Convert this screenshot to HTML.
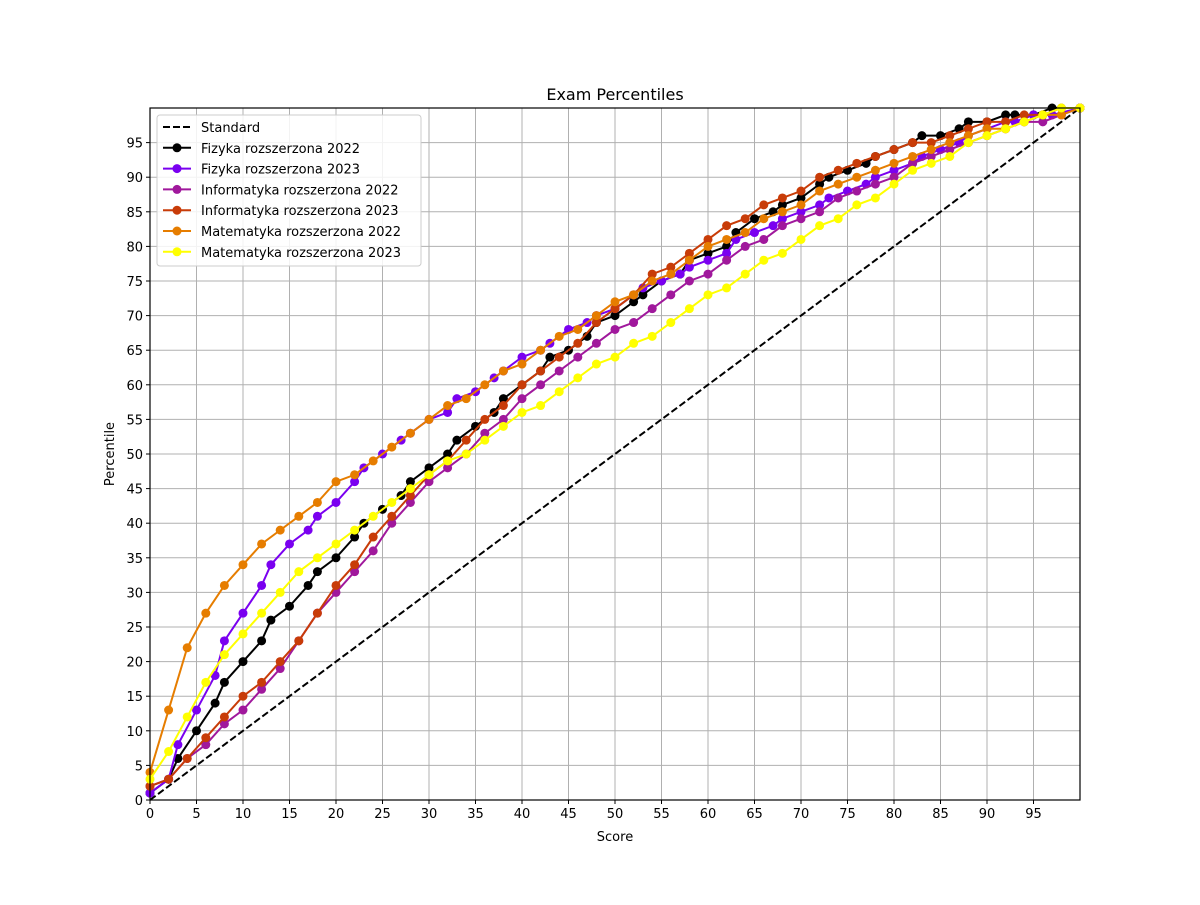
<!DOCTYPE html>
<html><head><meta charset="utf-8"><style>
body{margin:0;background:#fff;font-family:"Liberation Sans","DejaVu Sans",sans-serif}
svg text{font-family:"DejaVu Sans","Liberation Sans",sans-serif}
</style></head><body>
<svg id="chart" width="1200" height="900" xmlns="http://www.w3.org/2000/svg"></svg>
<script>
const xTicks=[0,5,10,15,20,25,30,35,40,45,50,55,60,65,70,75,80,85,90,95];
const yTicks=[0,5,10,15,20,25,30,35,40,45,50,55,60,65,70,75,80,85,90,95];
const seriesNames=["Fizyka rozszerzona 2022","Fizyka rozszerzona 2023","Informatyka rozszerzona 2022","Informatyka rozszerzona 2023","Matematyka rozszerzona 2022","Matematyka rozszerzona 2023"];
const fiz22X=[0,2,3,5,7,8,10,12,13,15,17,18,20,22,23,25,27,28,30,32,33,35,37,38,40,42,43,45,47,48,50,52,53,55,57,58,60,62,63,65,67,68,70,72,73,75,77,78,80,82,83,85,87,88,90,92,93,95,97,100];
const fiz22Y=[1,3,6,10,14,17,20,23,26,28,31,33,35,38,40,42,44,46,48,50,52,54,56,58,60,62,64,65,67,69,70,72,73,75,76,78,79,80,82,84,85,86,87,89,90,91,92,93,94,95,96,96,97,98,98,99,99,99,100,100];
const fiz23X=[0,2,3,5,7,8,10,12,13,15,17,18,20,22,23,25,27,28,30,32,33,35,37,38,40,42,43,45,47,48,50,52,53,55,57,58,60,62,63,65,67,68,70,72,73,75,77,78,80,82,83,85,87,88,90,92,93,95,97,100];
const fiz23Y=[1,3,8,13,18,23,27,31,34,37,39,41,43,46,48,50,52,53,55,56,58,59,61,62,64,65,66,68,69,70,71,73,74,75,76,77,78,79,81,82,83,84,85,86,87,88,89,90,91,92,93,94,95,96,97,98,98,99,99,100];
const inf22X=[0,2,4,6,8,10,12,14,16,18,20,22,24,26,28,30,32,34,36,38,40,42,44,46,48,50,52,54,56,58,60,62,64,66,68,70,72,74,76,78,80,82,84,86,88,90,92,94,96,98,100];
const inf22Y=[2,3,6,8,11,13,16,19,23,27,30,33,36,40,43,46,48,50,53,55,58,60,62,64,66,68,69,71,73,75,76,78,80,81,83,84,85,87,88,89,90,92,93,94,95,96,97,98,98,99,100];
const inf23Y=[2,3,6,9,12,15,17,20,23,27,31,34,38,41,44,47,49,52,55,57,60,62,64,66,69,71,73,76,77,79,81,83,84,86,87,88,90,91,92,93,94,95,95,96,97,98,98,99,99,100,100];
const mat22Y=[4,13,22,27,31,34,37,39,41,43,46,47,49,51,53,55,57,58,60,62,63,65,67,68,70,72,73,75,76,78,80,81,82,84,85,86,88,89,90,91,92,93,94,95,96,97,97,98,99,99,100];
const mat23Y=[3,7,12,17,21,24,27,30,33,35,37,39,41,43,45,47,49,50,52,54,56,57,59,61,63,64,66,67,69,71,73,74,76,78,79,81,83,84,86,87,89,91,92,93,95,96,97,98,99,100,100];
const colors=["#000000","#7a00f0","#a0189c","#c83c08","#e67d00","#ffff00"];
const L=150,R=1080,T=108,B=800;
const sx=v=>L+(v/100)*(R-L);
const sy=v=>B-(v/100)*(B-T);
const svg=document.getElementById('chart');
const NS="http://www.w3.org/2000/svg";
function mk(tag,attrs,parent){const e=document.createElementNS(NS,tag);for(const k in attrs)e.setAttribute(k,attrs[k]);(parent||svg).appendChild(e);return e;}
xTicks.forEach(t=>{
 const g=mk('line',{x1:sx(t),x2:sx(t),y1:T,y2:B,stroke:'#b0b0b0','stroke-width':1});
 
 
 mk('line',{x1:sx(t),x2:sx(t),y1:B,y2:B+4,stroke:'#000'});
 const tx=mk('text',{x:sx(t),y:B+18,'font-size':13,'text-anchor':'middle'});tx.textContent=t;
 
 
});
yTicks.forEach(t=>{
 const g=mk('line',{x1:L,x2:R,y1:sy(t),y2:sy(t),stroke:'#b0b0b0','stroke-width':1});
 
 
 mk('line',{x1:L-4,x2:L,y1:sy(t),y2:sy(t),stroke:'#000'});
 const tx=mk('text',{x:L-7,y:sy(t)+5,'font-size':13,'text-anchor':'end'});tx.textContent=t;
 
 
});
const std=mk('line',{x1:sx(0),y1:sy(0),x2:sx(100),y2:sy(100),stroke:'#000','stroke-width':2,'stroke-dasharray':'7,3'});


const allX=[fiz22X,fiz23X,inf22X,inf22X,inf22X,inf22X];
const allY=[fiz22Y,fiz23Y,inf22Y,inf23Y,mat22Y,mat23Y];
allY.forEach((ys,i)=>{
 const xs=allX[i];
 const g=mk('g',{});
 
 
 mk('polyline',{points:ys.map((y,j)=>sx(xs[j])+','+sy(y)).join(' '),fill:'none',stroke:colors[i],'stroke-width':2},g);
 ys.forEach((y,j)=>{const c=mk('circle',{cx:sx(xs[j]),cy:sy(y),r:4.5,fill:colors[i]},g);
  
  });
});
mk('rect',{x:L,y:T,width:R-L,height:B-T,fill:'none',stroke:'#000','stroke-width':1.2});
const title=mk('text',{x:(L+R)/2,y:100,'font-size':16,'text-anchor':'middle'});title.textContent='Exam Percentiles';


const xl=mk('text',{x:(L+R)/2,y:841,'font-size':13,'text-anchor':'middle'});xl.textContent='Score';


const yl=mk('text',{x:114,y:454,'font-size':13,'text-anchor':'middle',transform:'rotate(-90 114 454)'});yl.textContent='Percentile';


const lg=mk('g',{});


mk('rect',{x:157,y:115,width:264,height:151,rx:3,fill:'#fff','fill-opacity':0.85,stroke:'#ccc'},lg);
const names=["Standard"].concat(seriesNames);
names.forEach((n,i)=>{
 const y=127+i*20.8;
 const e=mk('g',{},lg);
 
 
 if(i===0) mk('line',{x1:163,x2:191,y1:y,y2:y,stroke:'#000','stroke-width':2,'stroke-dasharray':'7,3'},e);
 else {mk('line',{x1:163,x2:191,y1:y,y2:y,stroke:colors[i-1],'stroke-width':2},e);mk('circle',{cx:177,cy:y,r:4.5,fill:colors[i-1]},e);}
 const t=mk('text',{x:201,y:y+5,'font-size':13},e);t.textContent=n;
});
</script>
</body></html>
